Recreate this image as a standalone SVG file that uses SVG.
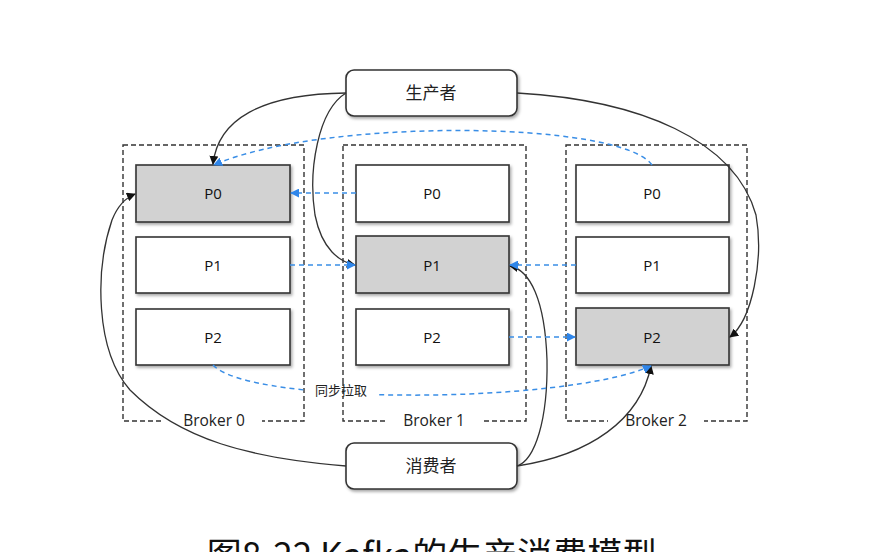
<svg xmlns="http://www.w3.org/2000/svg" width="870" height="552" viewBox="0 0 870 552">
<style>
.bk{fill:none;stroke:#333;stroke-width:1.4;stroke-dasharray:5,3}
.p{fill:#fff;stroke:#333;stroke-width:1.6;filter:url(#sh)}
.pg{fill:#d2d2d2;stroke:#333;stroke-width:1.6;filter:url(#sh)}
.t{font-family:"Open Sans","Liberation Sans",sans-serif;font-size:15px;fill:#111;text-anchor:middle}
.bl{font-family:"Open Sans","Liberation Sans",sans-serif;font-size:15.5px;fill:#222;text-anchor:middle}
.cn{font-family:"Noto Sans CJK SC",sans-serif;font-size:17px;fill:#222;text-anchor:middle}
.r{fill:#fff;stroke:#333;stroke-width:1.6;filter:url(#sh)}
.ln{fill:none;stroke:#333;stroke-width:1.3;marker-end:url(#ab)}
.bd{fill:none;stroke:#3a8ee6;stroke-width:1.5;stroke-dasharray:5,4;marker-end:url(#au)}
</style>
<defs>
<filter id="sh" x="-10%" y="-10%" width="130%" height="140%">
<feDropShadow dx="1.5" dy="2" stdDeviation="1.5" flood-color="#000" flood-opacity="0.35"/>
</filter>
<marker id="ab" viewBox="0 0 10 10" refX="9" refY="5" markerWidth="9" markerHeight="9" markerUnits="userSpaceOnUse" orient="auto"><path d="M0,0 L10,5 L0,10 z" fill="#111"/></marker>
<marker id="au" viewBox="0 0 10 10" refX="9" refY="5" markerWidth="9" markerHeight="9" markerUnits="userSpaceOnUse" orient="auto"><path d="M0,0 L10,5 L0,10 z" fill="#2f86ea"/></marker>
</defs>
<rect width="870" height="552" fill="#fff"/>

<g id="broker0">
<rect class="bk" x="123" y="145" width="181" height="276"/>
<rect x="164" y="412" width="98" height="18" fill="#fff"/>
<text class="bl" x="214" y="426">Broker 0</text>
</g>
<g id="broker1">
<rect class="bk" x="343" y="145" width="183" height="276"/>
<rect x="386" y="412" width="96" height="18" fill="#fff"/>
<text class="bl" x="434" y="426">Broker 1</text>
</g>
<g id="broker2">
<rect class="bk" x="566" y="145" width="181" height="276"/>
<rect x="608" y="412" width="96" height="18" fill="#fff"/>
<text class="bl" x="656" y="426">Broker 2</text>
</g>

<g id="b0p0"><rect class="pg" x="136" y="165" width="154" height="57"/><text class="t" x="213" y="199">P0</text></g>
<g id="b0p1"><rect class="p" x="136" y="237" width="154" height="56"/><text class="t" x="213" y="271">P1</text></g>
<g id="b0p2"><rect class="p" x="136" y="309" width="154" height="56"/><text class="t" x="213" y="343">P2</text></g>

<g id="b1p0"><rect class="p" x="356" y="165" width="153" height="57"/><text class="t" x="432" y="199">P0</text></g>
<g id="b1p1"><rect class="pg" x="356" y="236" width="153" height="57"/><text class="t" x="432" y="271">P1</text></g>
<g id="b1p2"><rect class="p" x="356" y="309" width="153" height="56"/><text class="t" x="432" y="343">P2</text></g>

<g id="b2p0"><rect class="p" x="576" y="165" width="153" height="57"/><text class="t" x="652" y="199">P0</text></g>
<g id="b2p1"><rect class="p" x="576" y="237" width="153" height="56"/><text class="t" x="652" y="271">P1</text></g>
<g id="b2p2"><rect class="pg" x="576" y="308" width="153" height="57"/><text class="t" x="652" y="343">P2</text></g>

<g id="producer"><rect class="r" x="346" y="70" width="171" height="46" rx="8"/><text class="cn" x="431" y="99">生产者</text></g>
<g id="consumer"><rect class="r" x="346" y="443" width="171" height="46" rx="8"/><text class="cn" x="431" y="472">消费者</text></g>

<g id="connectors">
<path class="ln" d="M346,93 C260,94 218,120 213,164"/>
<path class="ln" d="M346,93 C318,110 308,170 315,215 C322,250 340,262 355,265"/>
<path class="ln" d="M517,93 C640,100 735,140 756,215 C764,260 752,320 730,337"/>
<path class="ln" d="M346,466 C250,458 180,440 130,390 C95,350 95,270 112,220 C118,205 125,198 135,194"/>
<path class="ln" d="M517,466 C535,460 548,420 547,360 C545,300 530,270 510,266"/>
<path class="ln" d="M517,466 C590,455 640,420 651,366"/>

<path class="bd" d="M652,165 C620,120 320,118 214,165"/>
<path class="bd" d="M356,193 L291,193"/>
<path class="bd" d="M290,265 L355,265"/>
<path class="bd" d="M576,265 L510,265"/>
<path class="bd" d="M509,337 L575,337"/>
<path class="bd" d="M213,365 C250,405 560,405 651,366"/>
<rect x="306" y="381" width="70" height="17" fill="#fff"/>
<path d="M343,381 V398" stroke="#333" stroke-width="1.4" stroke-dasharray="5,3"/>
<text x="341" y="395" font-family="Noto Sans CJK SC,sans-serif" font-size="13" fill="#222" text-anchor="middle">同步拉取</text>
</g>

<text x="432" y="568" font-family="Noto Sans CJK SC,sans-serif" font-size="35" fill="#111" text-anchor="middle">图8-22 Kafka的生产消费模型</text>
</svg>
